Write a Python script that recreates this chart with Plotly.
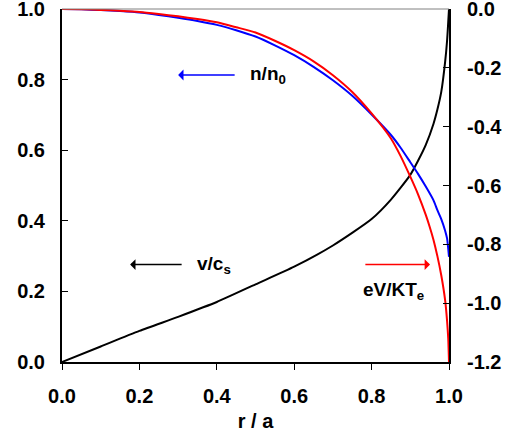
import plotly.graph_objects as go

# r/a positions and curves
r_n = [0.0, 0.05, 0.1, 0.15, 0.2, 0.25, 0.3, 0.35, 0.4, 0.45, 0.5, 0.55, 0.6, 0.65, 0.7, 0.75, 0.8, 0.85, 0.875, 0.9, 0.92, 0.94, 0.96, 0.97, 0.98, 0.99, 0.995, 1.0]
n_n0 = [1.0, 0.999, 0.997, 0.994, 0.99, 0.983, 0.975, 0.966, 0.955, 0.94, 0.922, 0.897, 0.869, 0.836, 0.798, 0.754, 0.701, 0.643, 0.607, 0.566, 0.533, 0.497, 0.458, 0.43, 0.405, 0.372, 0.35, 0.298]

r_phi = [0.0, 0.05, 0.1, 0.15, 0.2, 0.25, 0.3, 0.35, 0.4, 0.45, 0.5, 0.55, 0.6, 0.65, 0.7, 0.75, 0.8, 0.85, 0.875, 0.9, 0.92, 0.94, 0.95, 0.96, 0.97, 0.98, 0.99, 0.995, 0.998, 1.0]
phi = [0.0, -0.001, -0.003, -0.006, -0.01, -0.017, -0.025, -0.034, -0.045, -0.062, -0.08, -0.108, -0.14, -0.178, -0.225, -0.282, -0.355, -0.44, -0.5, -0.57, -0.63, -0.70, -0.74, -0.785, -0.84, -0.905, -0.99, -1.06, -1.12, -1.2]

r_v = [0.0, 0.1, 0.2, 0.3, 0.4, 0.5, 0.6, 0.7, 0.8, 0.85, 0.9, 0.92, 0.94, 0.96, 0.97, 0.98, 0.99, 0.995, 1.0]
v_cs = [0.0, 0.044, 0.088, 0.128, 0.17, 0.22, 0.27, 0.33, 0.405, 0.46, 0.53, 0.57, 0.615, 0.675, 0.715, 0.765, 0.85, 0.91, 1.0]

x_ticks = [0.0, 0.2, 0.4, 0.6, 0.8, 1.0]
y_left_ticks = [0.0, 0.2, 0.4, 0.6, 0.8, 1.0]
y_right_ticks = [0.0, -0.2, -0.4, -0.6, -0.8, -1.0, -1.2]

FONT = "Arial, Liberation Sans, sans-serif"

fig = go.Figure()
fig.add_trace(go.Scatter(x=r_v, y=v_cs, mode="lines", line=dict(color="black", width=2, shape="spline", smoothing=0.6), yaxis="y"))
fig.add_trace(go.Scatter(x=r_n, y=n_n0, mode="lines", line=dict(color="#0000ff", width=2, shape="spline", smoothing=0.6), yaxis="y"))
fig.add_trace(go.Scatter(x=r_phi, y=phi, mode="lines", line=dict(color="#ff0000", width=2, shape="spline", smoothing=0.6), yaxis="y2"))

fmt = lambda v: ("%.1f" % v)

fig.update_layout(
    width=514, height=434,
    margin=dict(l=62, r=65, t=9, b=72),
    paper_bgcolor="white", plot_bgcolor="white",
    showlegend=False,
    font=dict(family=FONT, size=20, color="black", weight="bold"),
    xaxis=dict(range=[0, 1], tickvals=x_ticks, ticktext=[fmt(v) for v in x_ticks],
               ticks="outside", ticklen=6, tickwidth=1, tickcolor="black", automargin=False,
               showline=True, linecolor="black", linewidth=2, showgrid=False, zeroline=False,
               ticklabeloverflow="allow", ticklabelstandoff=9,
               title=dict(text="r / a", font=dict(size=20, family=FONT, weight="bold"), standoff=8)),
    yaxis=dict(range=[0, 1], tickvals=y_left_ticks, ticktext=[fmt(v) for v in y_left_ticks],
               ticks="inside", ticklen=6, tickwidth=1, tickcolor="black", automargin=False,
               showline=True, linecolor="black", linewidth=2, showgrid=False, zeroline=False,
               ticklabeloverflow="allow", ticklabelstandoff=11),
    yaxis2=dict(range=[-1.2, 0], overlaying="y", side="right",
                tickvals=y_right_ticks, ticktext=[fmt(v) for v in y_right_ticks],
                ticks="inside", ticklen=6, tickwidth=1, tickcolor="black", automargin=False,
                showline=True, linecolor="black", linewidth=2, showgrid=False, zeroline=False,
                ticklabeloverflow="allow", ticklabelstandoff=12),
)

# top frame line
fig.add_shape(type="line", xref="paper", yref="paper", x0=0, x1=1, y0=1, y1=1,
              line=dict(color="#808080", width=1))

# arrows
arrow_common = dict(text="", showarrow=True, arrowhead=1, arrowsize=1.2, arrowwidth=1.5,
                    xref="x", yref="y", axref="x", ayref="y")
fig.add_annotation(x=0.300, y=0.813, ax=0.450, ay=0.813, arrowcolor="#0000ff", **arrow_common)
fig.add_annotation(x=0.176, y=0.276, ax=0.313, ay=0.276, arrowcolor="black", **arrow_common)
fig.add_annotation(x=0.951, y=0.276, ax=0.780, ay=0.276, arrowcolor="#ff0000", **arrow_common)

# labels
lab = dict(showarrow=False, xref="x", yref="y", xanchor="left", yanchor="middle",
           font=dict(size=19, family=FONT, color="black", weight="bold"))
fig.add_annotation(x=0.481, y=0.813, text="n/n<sub>0</sub>", **lab)
fig.add_annotation(x=0.344, y=0.276, text="v/c<sub>s</sub>", **lab)
fig.add_annotation(x=0.773, y=0.201, text="eV/KT<sub>e</sub>", **lab)

fig.write_html("out.html", config={"displayModeBar": False},
               post_script="document.body.style.margin='0';")
